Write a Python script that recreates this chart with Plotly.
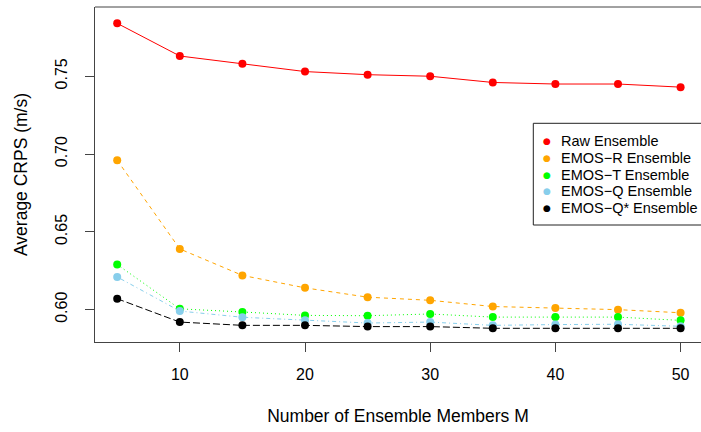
import plotly.graph_objects as go

members = [5, 10, 15, 20, 25, 30, 35, 40, 45, 50]
raw = [0.784, 0.763, 0.758, 0.753, 0.751, 0.750, 0.746, 0.745, 0.745, 0.743]
emos_r = [0.696, 0.639, 0.622, 0.614, 0.608, 0.606, 0.602, 0.601, 0.600, 0.598]
emos_t = [0.629, 0.6005, 0.5985, 0.5963, 0.5961, 0.5972, 0.5952, 0.5952, 0.5952, 0.5931]
emos_q = [0.621, 0.5991, 0.5951, 0.5931, 0.5914, 0.5920, 0.5899, 0.5904, 0.5906, 0.5893]
emos_qs = [0.607, 0.5920, 0.5899, 0.5899, 0.5891, 0.5891, 0.5880, 0.5880, 0.5880, 0.5880]

names = ["Raw Ensemble", "EMOS\u2212R Ensemble", "EMOS\u2212T Ensemble",
         "EMOS\u2212Q Ensemble", "EMOS\u2212Q* Ensemble"]
series = [raw, emos_r, emos_t, emos_q, emos_qs]
colors = ["#FF0000", "#FFA500", "#00FF00", "#87CEEB", "#000000"]
dashes = ["solid", "4px,4px", "1px,3px", "1px,3px,4px,3px", "7px,3px"]

x_ticks = [10, 20, 30, 40, 50]
y_ticks = [0.60, 0.65, 0.70, 0.75]
y_ticktext = ["0.60", "0.65", "0.70", "0.75"]

W, H = 701, 432
ML, MR, MT, MB = 95, 0, 7, 90
PW, PH = W - ML - MR, H - MT - MB

fig = go.Figure()
for name, ys, c, d in zip(names, series, colors, dashes):
    fig.add_trace(go.Scatter(
        x=members, y=ys, name=name, mode="lines+markers",
        line=dict(color=c, width=1, dash=d),
        marker=dict(color=c, size=8, line=dict(width=0)),
        showlegend=False,
    ))

FONT = "Liberation Sans, Arial, Helvetica, sans-serif"
axcol = "#444444"

def px2paper_x(px):
    return (px - ML) / PW

def px2paper_y(py):
    return (H - MB - py) / PH

annotations = []
shapes = [
    dict(type="line", xref="paper", yref="paper", x0=0, x1=1, y0=1, y1=1,
         line=dict(color=axcol, width=1)),
    dict(type="rect", xref="paper", yref="paper",
         x0=px2paper_x(533.3), x1=1.05,
         y0=px2paper_y(225), y1=px2paper_y(123.3),
         line=dict(color="#222222", width=1), fillcolor="white", layer="above"),
]
for i, (name, c) in enumerate(zip(names, colors)):
    yc = 141.3 + i * 16.7
    annotations.append(dict(
        xref="paper", yref="paper", x=px2paper_x(546.7), y=px2paper_y(yc),
        text="\u25CF", showarrow=False, xanchor="center", yanchor="middle",
        font=dict(family="DejaVu Sans", size=9, color=c)))
    annotations.append(dict(
        xref="paper", yref="paper", x=px2paper_x(559.3), y=px2paper_y(yc),
        text=name, showarrow=False, xanchor="left", yanchor="middle",
        font=dict(family=FONT, size=14.5, color="black")))

fig.update_layout(
    width=W, height=H,
    margin=dict(l=ML, r=MR, t=MT, b=MB, autoexpand=False),
    paper_bgcolor="white", plot_bgcolor="white",
    font=dict(family=FONT, size=16, color="black"),
    shapes=shapes, annotations=annotations,
    xaxis=dict(
        range=[3.227, 51.63], tickvals=x_ticks, ticktext=[str(v) for v in x_ticks],
        showgrid=False, zeroline=False, showline=True, linecolor=axcol, linewidth=1,
        ticks="outside", ticklen=9, tickcolor=axcol, tickwidth=1,
        ticklabelstandoff=9,
        title=dict(text="Number of Ensemble Members M", font=dict(size=17.5), standoff=27),
        automargin=False,
    ),
    yaxis=dict(
        range=[0.5792, 0.7945], tickvals=y_ticks, ticktext=y_ticktext,
        showgrid=False, zeroline=False, showline=True, linecolor=axcol, linewidth=1,
        ticks="outside", ticklen=9, tickcolor=axcol, tickwidth=1, tickangle=-90,
        ticklabelstandoff=12,
        title=dict(text="Average CRPS (m/s)", font=dict(size=17.5), standoff=20),
        automargin=False,
    ),
)

fig.write_html("out.html", config={"displayModeBar": False},
               post_script="document.body.style.margin='0';document.body.style.overflow='hidden';")
